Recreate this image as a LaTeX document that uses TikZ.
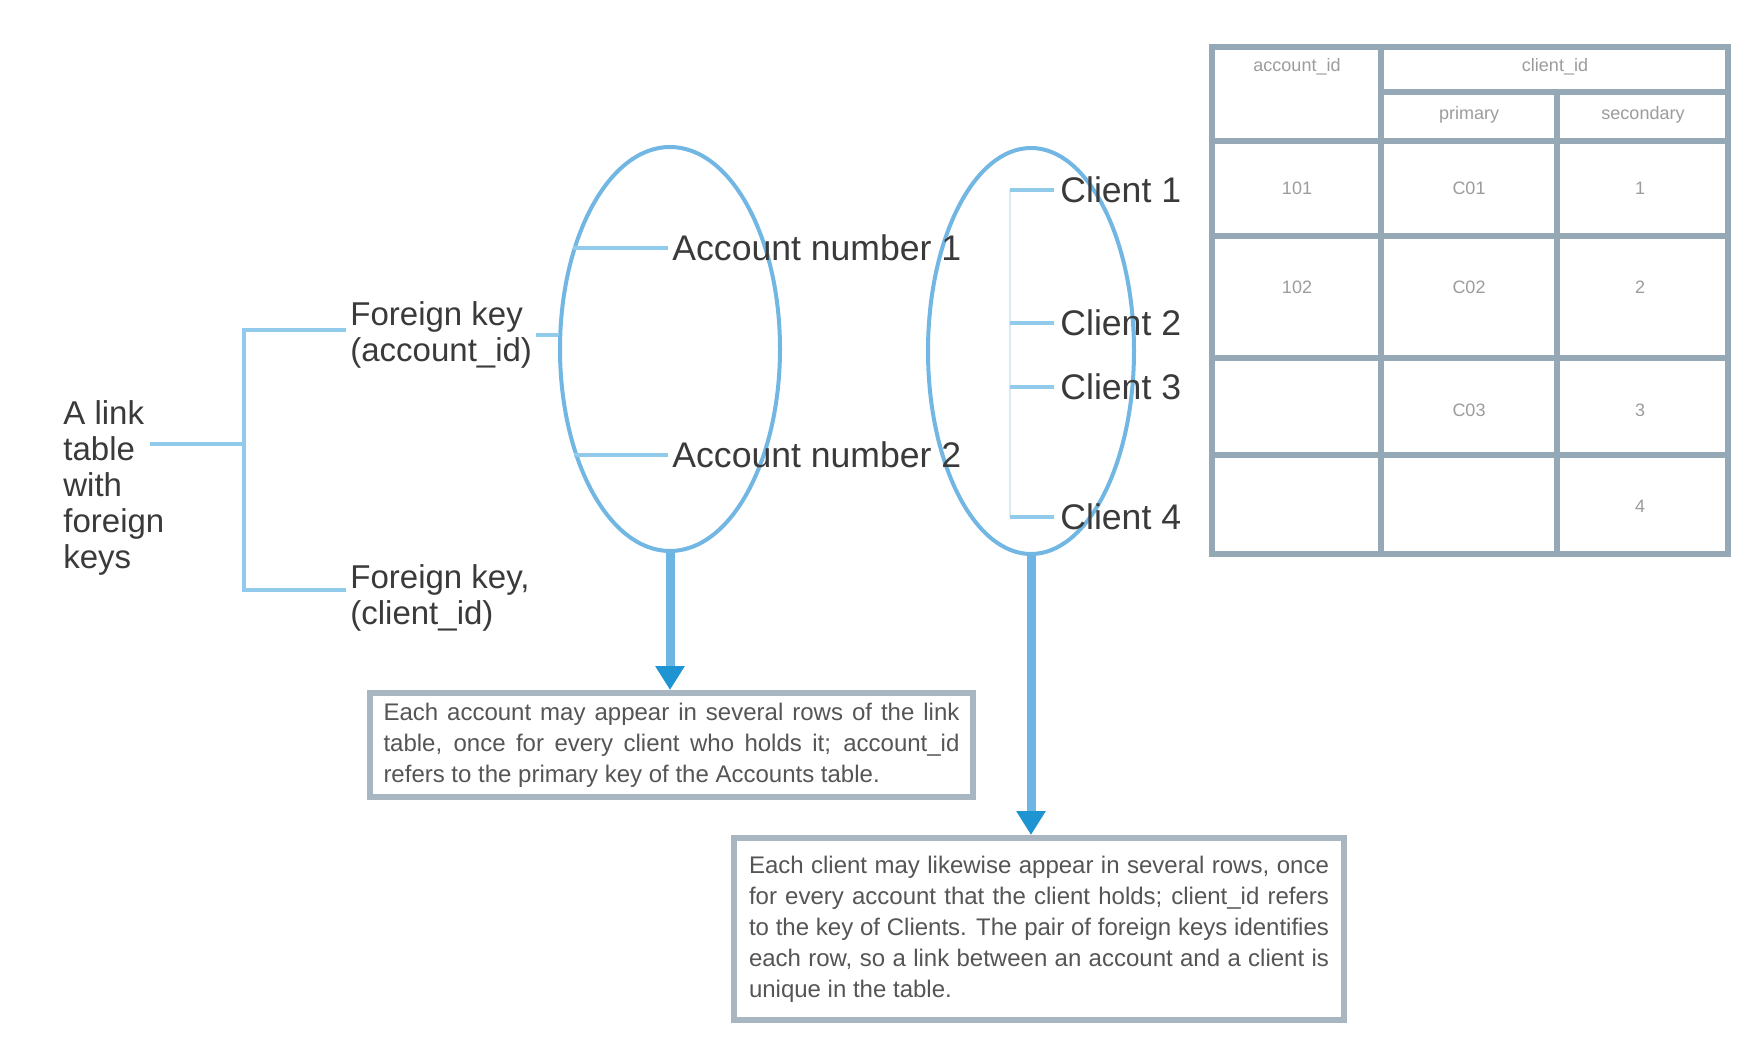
\documentclass[tikz,border=0pt]{standalone}
\usepackage{fontspec}
\setmainfont{Liberation Sans}
\usetikzlibrary{arrows.meta,shapes.geometric}

\definecolor{leadblue}{HTML}{92CAEC}
\definecolor{paleblue}{HTML}{D6EAF7}
\definecolor{ovalblue}{HTML}{72B7E4}
\definecolor{arrowblue}{HTML}{6DB6E3}
\definecolor{tipblue}{HTML}{1F94D2}
\definecolor{framegray}{HTML}{A7B6C0}
\definecolor{gridgray}{HTML}{94A8B5}
\definecolor{ink}{HTML}{3A3A3A}
\definecolor{boxink}{HTML}{555555}
\definecolor{cellink}{HTML}{9C9C9C}

\tikzset{
  lbl/.style={font=\fontsize{16.5}{18}\selectfont, text=ink, inner sep=0pt, align=left},
  itemlbl/.style={lbl, font=\fontsize{17.8}{19}\selectfont},
  lead/.style={draw=leadblue, line width=1.6pt},
  paleline/.style={draw=paleblue, line width=1.4pt},
  setoval/.style={ellipse, draw=ovalblue, line width=2pt, inner sep=0pt},
  bigarrow/.style={draw=arrowblue, line width=4.5pt,
    -{Triangle[width=14pt,length=12pt,color=tipblue]}},
  notebox/.style={draw=framegray, line width=3pt, inner sep=0pt,
    font=\fontsize{12}{15.5}\selectfont, text=boxink, align=justify},
  grid/.style={draw=gridgray, line width=3pt},
  cell/.style={font=\fontsize{9}{11}\selectfont, text=cellink, inner sep=0pt}
}

\begin{document}
% the notes are set without hyphenation
\hyphenpenalty=10000
\exhyphenpenalty=10000
\begin{tikzpicture}[x=0.5pt,y=-0.5pt]
  % canvas
  \fill[white] (0,0) rectangle (1763,1064);
  \useasboundingbox (0,0) rectangle (1763,1064);

  % left description and its bracket
  \node[lbl, anchor=west] (lt) at (63,488) {A link\\table\\with\\foreign\\keys};
  \node[lbl, anchor=west] (keyA) at (350,335) {Foreign key\\(account\_id)};
  \node[lbl, anchor=west] (keyB) at (350,598) {Foreign key,\\(client\_id)};
  \coordinate (jn) at (150,444);
  \coordinate (brT) at (244,330);
  \coordinate (brB) at (244,590);
  \coordinate (kaw) at ([xshift=-2pt]keyA.west);
  \coordinate (kbw) at ([xshift=-2pt]keyB.west);
  \draw[lead] (jn) -- (jn -| brT);
  \draw[lead] (kaw |- brT) -- (brT) -- (brB) -- (kbw |- brB);

  % the two sets
  \node[setoval, minimum width=110pt, minimum height=202pt] (set1) at (670,349) {};
  \node[setoval, minimum width=103pt, minimum height=203pt] (set2) at (1031,351) {};
  \draw[lead] ([xshift=2pt]keyA.east) -- (set1.west |- keyA.east);

  % accounts
  \node[itemlbl, anchor=west] (acc1) at (672,248) {Account number 1};
  \node[itemlbl, anchor=west] (acc2) at (672,455) {Account number 2};
  \draw[lead] (set1.133 |- acc1.west) -- ([xshift=-2pt]acc1.west);
  \draw[lead] (set1.228 |- acc2.west) -- ([xshift=-2pt]acc2.west);

  % clients
  \node[itemlbl, anchor=west] (cl1) at (1060,190) {Client 1};
  \node[itemlbl, anchor=west] (cl2) at (1060,323) {Client 2};
  \node[itemlbl, anchor=west] (cl3) at (1060,387) {Client 3};
  \node[itemlbl, anchor=west] (cl4) at (1060,517) {Client 4};
  \coordinate (spine) at (1010,0);
  \draw[paleline] (spine |- cl1.west) -- (spine |- cl4.west);
  \foreach \c in {cl1,cl2,cl3,cl4}
    \draw[lead] (spine |- \c.west) -- ([xshift=-3pt]\c.west);

  % explanatory notes
  \node[notebox, minimum width=301.5pt, minimum height=52pt, text width=288pt]
    (box1) at (671.5,745)
    {Each account may appear in several rows of the link table,
     once for every client who holds it; account\_id refers to the primary
     key of the Accounts table.};
  \node[notebox, minimum width=305pt, minimum height=91pt, text width=290pt]
    (box2) at (1039,929)
    {Each client may likewise appear in several rows, once for
     every account that the client holds; client\_id refers to the key of
     Clients. The pair of foreign keys identifies each row, so a link between
     an account and a client is unique in the table.};
  \draw[bigarrow] (set1.south) -- (set1.south |- box1.north);
  \draw[bigarrow] (set2.south) -- (set2.south |- box2.north);

  % link table
  \draw[grid] (1212,47) rectangle (1728,554);
  \draw[grid] (1381,47) -- (1381,554);
  \draw[grid] (1557,92) -- (1557,554);
  \draw[grid] (1381,92) -- (1728,92);
  \foreach \r in {141,236,358,455}
    \draw[grid] (1212,\r) -- (1728,\r);
  \node[cell] (h1) at (1297,67) {account\_id};
  \node[cell] (h2) at (1555,67) {client\_id};
  \node[cell] (h3) at (1469,115) {primary};
  \node[cell] (h4) at (1643,115) {secondary};
  \node[cell] (a1) at (1297,188) {101};
  \node[cell] (a2) at (1297,287) {102};
  \node[cell] (b1) at (1469,188) {C01};
  \node[cell] (b2) at (1469,287) {C02};
  \node[cell] (b3) at (1469,410) {C03};
  \node[cell] (c1) at (1640,188) {1};
  \node[cell] (c2) at (1640,287) {2};
  \node[cell] (c3) at (1640,410) {3};
  \node[cell] (c4) at (1640,506) {4};
\end{tikzpicture}
\end{document}
